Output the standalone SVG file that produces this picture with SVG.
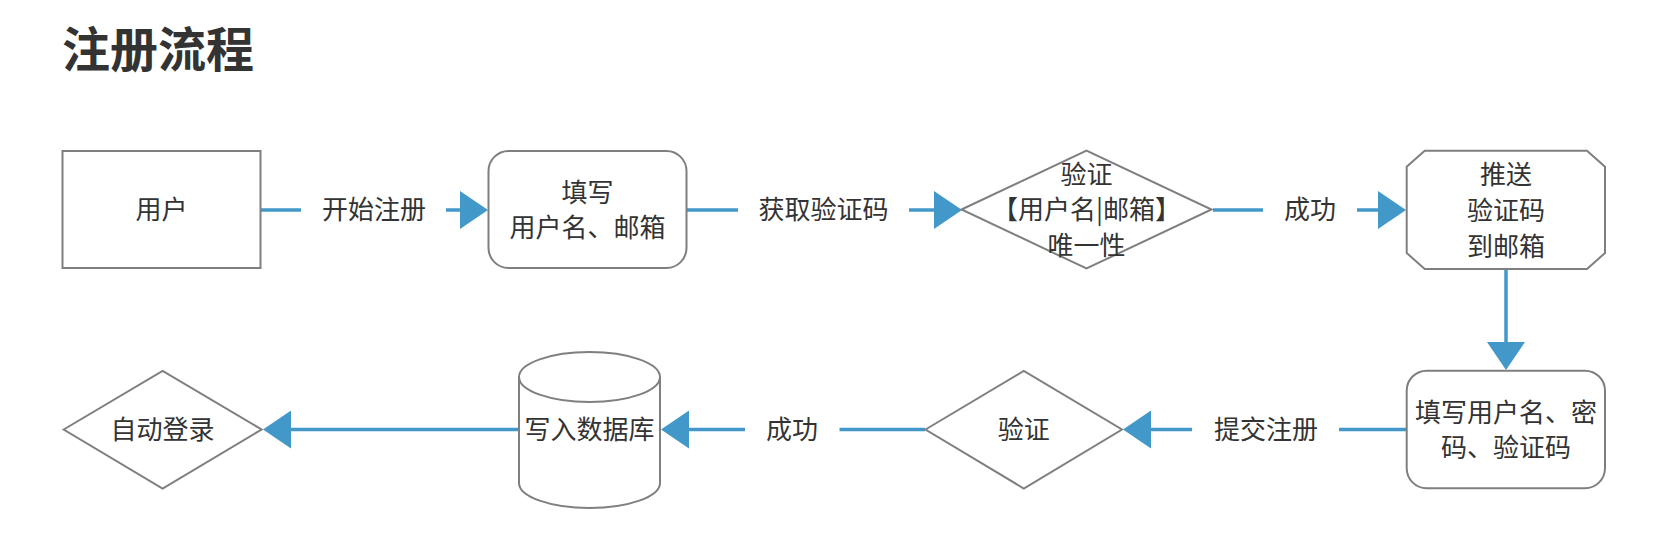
<svg xmlns="http://www.w3.org/2000/svg" width="1662" height="542" viewBox="0 0 1662 542">
<style>
  .node { fill: #ffffff; stroke: #7f7f7f; stroke-width: 2; }
  .txt { font-family: "Noto Sans CJK SC", "Noto Sans", sans-serif; font-size: 26px; fill: #333333; text-anchor: middle; }
  .title { font-family: "Noto Sans CJK SC", "Noto Sans", sans-serif; font-size: 48px; font-weight: 700; fill: #333333; }
  .conn { stroke: #4299c9; stroke-width: 3.5; fill: none; }
  .arr { marker-end: url(#arrow); }
</style>
<defs>
  <marker id="arrow" viewBox="0 0 28 38" refX="1" refY="19" markerWidth="28" markerHeight="38" markerUnits="userSpaceOnUse" orient="auto">
    <path d="M0,0 L28,19 L0,38 Z" fill="#4299c9"/>
  </marker>
</defs>
<rect width="1662" height="542" fill="#ffffff"/>
<text class="title" x="62" y="67">注册流程</text>

<g id="connectors">
  <line class="conn" x1="261" y1="210" x2="301" y2="210"/>
  <text class="txt" x="374" y="219">开始注册</text>
  <line class="conn arr" x1="446" y1="210" x2="461" y2="210"/>

  <line class="conn" x1="687" y1="210" x2="738" y2="210"/>
  <text class="txt" x="823.5" y="219">获取验证码</text>
  <line class="conn arr" x1="909" y1="210" x2="935" y2="210"/>

  <line class="conn" x1="1213" y1="210" x2="1263" y2="210"/>
  <text class="txt" x="1310" y="219">成功</text>
  <line class="conn arr" x1="1357" y1="210" x2="1379" y2="210"/>

  <line class="conn arr" x1="1506" y1="269" x2="1506" y2="343"/>

  <line class="conn" x1="1406" y1="429.5" x2="1339" y2="429.5"/>
  <text class="txt" x="1266" y="438.5">提交注册</text>
  <line class="conn arr" x1="1192" y1="429.5" x2="1150" y2="429.5"/>

  <line class="conn" x1="925" y1="429.5" x2="839.5" y2="429.5"/>
  <text class="txt" x="792" y="438.5">成功</text>
  <line class="conn arr" x1="745" y1="429.5" x2="688" y2="429.5"/>

  <line class="conn arr" x1="519" y1="429.5" x2="290" y2="429.5"/>
</g>

<g id="node-user">
  <rect class="node" x="62.5" y="151" width="198" height="117"/>
  <text class="txt" x="161.5" y="219">用户</text>
</g>

<g id="node-fill-email">
  <rect class="node" x="488.5" y="151" width="198" height="117" rx="20" ry="20"/>
  <text class="txt" x="587.5" y="202">填写</text>
  <text class="txt" x="587.5" y="237">用户名、邮箱</text>
</g>

<g id="node-check-unique">
  <polygon class="node" points="961.5,209.5 1086.5,150.5 1211.5,209.5 1086.5,268.5"/>
  <text class="txt" x="1086.5" y="184">验证</text>
  <text class="txt" x="1086.5" y="219">【用户名|邮箱】</text>
  <text class="txt" x="1086.5" y="255">唯一性</text>
</g>

<g id="node-push-code">
  <polygon class="node" points="1424.7,150.7 1587,150.7 1605,166.7 1605,253 1587,269 1424.7,269 1406.7,253 1406.7,166.7"/>
  <text class="txt" x="1506" y="184">推送</text>
  <text class="txt" x="1506" y="220">验证码</text>
  <text class="txt" x="1506" y="256">到邮箱</text>
</g>

<g id="node-fill-all">
  <rect class="node" x="1406.7" y="370.7" width="198.3" height="117.5" rx="20" ry="20"/>
  <text class="txt" x="1506" y="422">填写用户名、密</text>
  <text class="txt" x="1506" y="457">码、验证码</text>
</g>

<g id="node-verify">
  <polygon class="node" points="925.5,429.5 1023.8,371 1122,429.5 1023.8,488.5"/>
  <text class="txt" x="1023.8" y="438.5">验证</text>
</g>

<g id="node-db">
  <path class="node" d="M519,377 A70.5,25 0 0 1 660,377 L660,483 A70.5,25 0 0 1 519,483 Z"/>
  <path class="node" d="M519,377 A70.5,25 0 0 0 660,377" fill="none"/>
  <text class="txt" x="589.5" y="438.5">写入数据库</text>
</g>

<g id="node-autologin">
  <polygon class="node" points="63.7,429.5 162.6,371 261.6,429.5 162.6,488.5"/>
  <text class="txt" x="162.6" y="438.5">自动登录</text>
</g>
</svg>
